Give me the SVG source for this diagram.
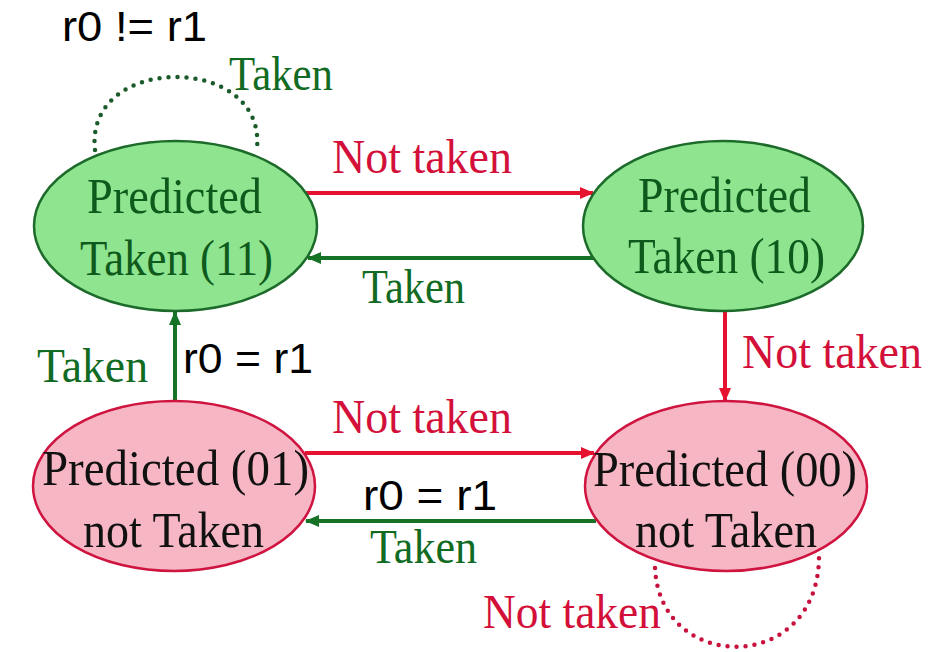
<svg xmlns="http://www.w3.org/2000/svg" width="931" height="652" viewBox="0 0 931 652">
<defs>
<style>
.serif{font-family:"Liberation Serif","Times New Roman",serif;}
.sans{font-family:"Liberation Sans",Arial,sans-serif;font-size:42px;fill:#000;}
.node-g{fill:#8fe58f;stroke:#1d6b2a;stroke-width:2.5;}
.node-r{fill:#f6b6c4;stroke:#cf1440;stroke-width:2.5;}
.nt-g{fill:#0e5a1c;font-size:51px;}
.nt-r{fill:#111;font-size:51px;}
.lbl-r{fill:#d3103a;font-size:48px;}
.lbl-g{fill:#116b22;font-size:48px;}
.ln-r{stroke:#e5132f;stroke-width:4;fill:none;}
.ln-g{stroke:#167326;stroke-width:4;fill:none;}
.dot-g{stroke:#1b5b2a;stroke-width:4.5;stroke-linecap:round;stroke-dasharray:0 9;fill:none;}
.dot-r{stroke:#c8123e;stroke-width:4.5;stroke-linecap:round;stroke-dasharray:0 9;fill:none;}
</style>
<marker id="ah-r" markerUnits="userSpaceOnUse" markerWidth="14" markerHeight="12" refX="13" refY="6" orient="auto">
<path d="M0,0 L14,6 L0,12 Z" fill="#e5132f"/>
</marker>
<marker id="ah-g" markerUnits="userSpaceOnUse" markerWidth="14" markerHeight="12" refX="13" refY="6" orient="auto">
<path d="M0,0 L14,6 L0,12 Z" fill="#167326"/>
</marker>
</defs>
<rect width="931" height="652" fill="#fff"/>

<g id="connectors">
<line class="ln-r" x1="306" y1="193" x2="593" y2="193" marker-end="url(#ah-r)"/>
<line class="ln-g" x1="594" y1="258" x2="308" y2="258" marker-end="url(#ah-g)"/>
<line class="ln-r" x1="725" y1="311" x2="725" y2="401" stroke-width="3" marker-end="url(#ah-r)"/>
<line class="ln-g" x1="175" y1="401" x2="175" y2="312" stroke-width="3" marker-end="url(#ah-g)"/>
<line class="ln-r" x1="305" y1="453" x2="594" y2="453" marker-end="url(#ah-r)"/>
<line class="ln-g" x1="596" y1="521" x2="306" y2="521" marker-end="url(#ah-g)"/>
<path class="dot-g" d="M95,150 C84,53 266,53 257,148"/>
<path class="dot-r" d="M655,568 C660,675 820,675 819,555"/>
</g>

<g id="node-11">
<ellipse class="node-g" cx="175.5" cy="226" rx="141.5" ry="85"/>
<text class="serif nt-g" x="87" y="213" textLength="175" lengthAdjust="spacingAndGlyphs">Predicted</text>
<text class="serif nt-g" x="80" y="275" textLength="193" lengthAdjust="spacingAndGlyphs">Taken (11)</text>
</g>
<g id="node-10">
<ellipse class="node-g" cx="723" cy="226" rx="140" ry="85"/>
<text class="serif nt-g" x="638" y="212" textLength="173" lengthAdjust="spacingAndGlyphs">Predicted</text>
<text class="serif nt-g" x="628" y="273" textLength="197" lengthAdjust="spacingAndGlyphs">Taken (10)</text>
</g>
<g id="node-01">
<ellipse class="node-r" cx="174" cy="486" rx="141" ry="85"/>
<text class="serif nt-r" x="42" y="485" textLength="267" lengthAdjust="spacingAndGlyphs">Predicted (01)</text>
<text class="serif nt-r" x="83" y="547" textLength="181" lengthAdjust="spacingAndGlyphs">not Taken</text>
</g>
<g id="node-00">
<ellipse class="node-r" cx="726" cy="486" rx="141" ry="85"/>
<text class="serif nt-r" x="593" y="486" textLength="264" lengthAdjust="spacingAndGlyphs">Predicted (00)</text>
<text class="serif nt-r" x="635" y="547" textLength="182" lengthAdjust="spacingAndGlyphs">not Taken</text>
</g>

<g id="labels">
<text class="sans" x="62" y="41" font-size="40" textLength="145" lengthAdjust="spacingAndGlyphs">r0 != r1</text>
<text class="serif lbl-g" x="229" y="90" font-size="43" textLength="104" lengthAdjust="spacingAndGlyphs">Taken</text>
<text class="serif lbl-r" x="332" y="173" textLength="180" lengthAdjust="spacingAndGlyphs">Not taken</text>
<text class="serif lbl-g" x="362" y="303" textLength="103" lengthAdjust="spacingAndGlyphs">Taken</text>
<text class="serif lbl-g" x="37" y="382" textLength="111" lengthAdjust="spacingAndGlyphs">Taken</text>
<text class="sans" x="183" y="373" font-size="43" textLength="130" lengthAdjust="spacingAndGlyphs">r0 = r1</text>
<text class="serif lbl-r" x="742" y="368" textLength="180" lengthAdjust="spacingAndGlyphs">Not taken</text>
<text class="serif lbl-r" x="332" y="433" textLength="180" lengthAdjust="spacingAndGlyphs">Not taken</text>
<text class="sans" x="363" y="510" font-size="43" textLength="134" lengthAdjust="spacingAndGlyphs">r0 = r1</text>
<text class="serif lbl-g" x="370" y="563" textLength="107" lengthAdjust="spacingAndGlyphs">Taken</text>
<text class="serif lbl-r" x="483" y="628" textLength="178" lengthAdjust="spacingAndGlyphs">Not taken</text>
</g>
</svg>
